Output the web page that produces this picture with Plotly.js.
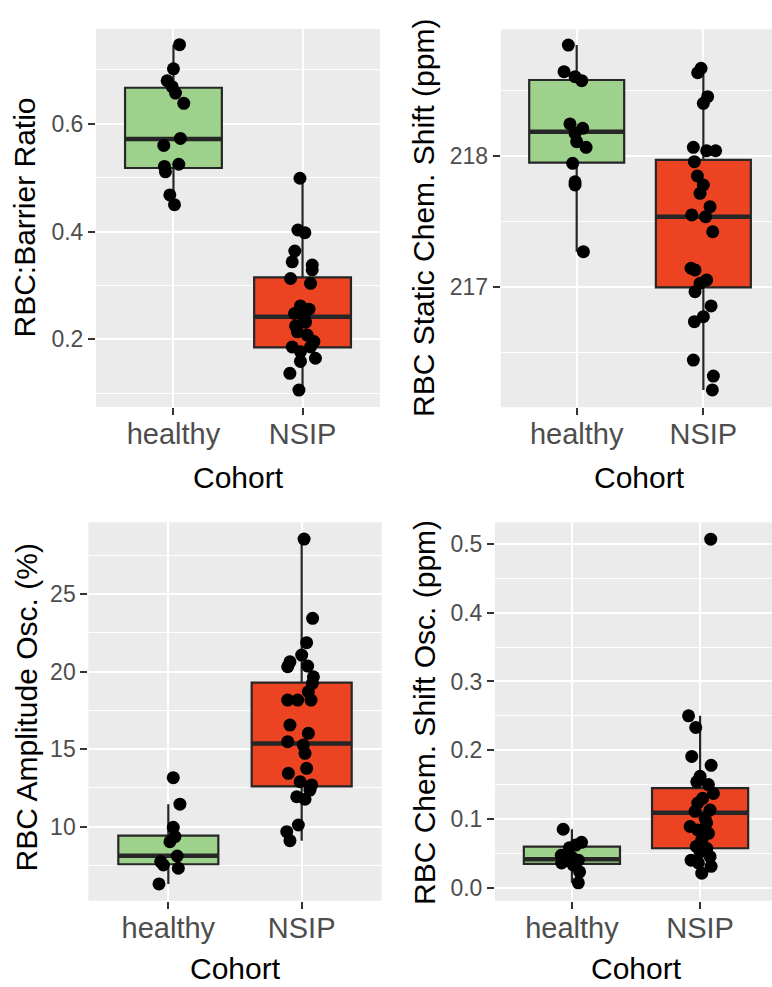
<!DOCTYPE html>
<html><head><meta charset="utf-8">
<script src="https://cdn.plot.ly/plotly-3.0.1.min.js"></script>
<style>html,body{margin:0;padding:0;background:#fff;} #chart{width:772px;height:987px;}</style>
</head><body><div id="chart"></div>
<script>
// ---------- data ----------
const categories = ['healthy', 'NSIP'];
const xTitle = 'Cohort';

// Panel 1: RBC:Barrier Ratio
const ratioTitle = 'RBC:Barrier Ratio';
const ratioHealthy = [0.747, 0.702, 0.680, 0.669, 0.657, 0.638, 0.573, 0.560, 0.525, 0.521, 0.511, 0.468, 0.450];
const ratioHealthyJitter = [0.047, 0.0, -0.049, -0.01, 0.016, 0.08, 0.054, -0.075, 0.041, -0.07, -0.062, -0.028, 0.008];
const ratioNSIP = [0.499, 0.403, 0.398, 0.364, 0.344, 0.338, 0.329, 0.313, 0.304, 0.262, 0.256, 0.248, 0.242, 0.232, 0.225, 0.214, 0.208, 0.196, 0.186, 0.186, 0.177, 0.165, 0.159, 0.137, 0.106];
const ratioNSIPJitter = [-0.02, -0.036, 0.018, -0.06, -0.08, 0.075, 0.075, -0.093, 0.062, -0.016, 0.05, -0.062, 0.01, 0.023, -0.054, -0.04, 0.036, 0.088, -0.08, 0.062, -0.016, 0.1, -0.016, -0.098, -0.028];
const ratioQ1 = [0.518, 0.185];
const ratioMedian = [0.572, 0.242];
const ratioQ3 = [0.667, 0.315];
const ratioLower = [0.450, 0.106];
const ratioUpper = [0.747, 0.499];

// Panel 2: RBC Static Chem. Shift (ppm)
const shiftTitle = 'RBC Static Chem. Shift (ppm)';
const shiftHealthy = [218.845, 218.642, 218.604, 218.574, 218.244, 218.211, 218.173, 218.109, 218.066, 217.944, 217.804, 217.779, 217.271];
const shiftHealthyJitter = [-0.066, -0.1, -0.013, 0.04, -0.053, 0.047, -0.013, 0.0, 0.074, -0.032, -0.013, -0.013, 0.053];
const shiftNSIP = [218.668, 218.634, 218.452, 218.401, 218.066, 218.040, 218.040, 217.957, 217.848, 217.779, 217.716, 217.614, 217.551, 217.538, 217.423, 217.145, 217.132, 217.056, 217.031, 216.967, 216.858, 216.776, 216.738, 216.446, 216.324, 216.218];
const shiftNSIPJitter = [-0.018, -0.045, 0.034, 0.0, -0.079, 0.026, 0.097, -0.071, -0.047, 0.0, -0.026, 0.053, -0.092, 0.018, 0.074, -0.097, -0.066, 0.026, -0.026, -0.066, 0.061, 0.0, -0.071, -0.079, 0.079, 0.071];
const shiftQ1 = [217.949, 217.0];
const shiftMedian = [218.185, 217.538];
const shiftQ3 = [218.579, 217.970];
const shiftLower = [217.271, 216.218];
const shiftUpper = [218.845, 218.668];

// Panel 3: RBC Amplitude Osc. (%)
const ampTitle = 'RBC Amplitude Osc. (%)';
const ampHealthy = [13.16, 11.45, 9.96, 9.36, 9.03, 8.11, 7.75, 7.53, 7.32, 6.31];
const ampHealthyJitter = [0.037, 0.087, 0.037, 0.05, 0.012, 0.067, -0.057, -0.037, 0.075, -0.07];
const ampNSIP = [28.54, 23.43, 21.86, 21.06, 20.63, 20.31, 20.35, 19.66, 19.24, 18.70, 18.16, 18.16, 18.16, 16.55, 16.02, 15.48, 15.26, 14.73, 13.76, 13.44, 12.90, 12.69, 12.36, 11.93, 11.77, 10.11, 9.68, 9.10];
const ampNSIPJitter = [0.018, 0.082, 0.037, 0.0, -0.088, -0.105, 0.045, 0.088, 0.08, 0.05, -0.105, -0.03, 0.07, -0.088, 0.05, -0.105, 0.012, 0.025, 0.037, -0.1, -0.012, 0.075, 0.062, -0.037, 0.025, -0.025, -0.112, -0.088];
const ampQ1 = [7.58, 12.60];
const ampMedian = [8.13, 15.37];
const ampQ3 = [9.42, 19.28];
const ampLower = [6.31, 9.10];
const ampUpper = [11.45, 28.54];

// Panel 4: RBC Chem. Shift Osc. (ppm)
const oscTitle = 'RBC Chem. Shift Osc. (ppm)';
const oscHealthy = [0.085, 0.066, 0.062, 0.058, 0.047, 0.044, 0.040, 0.036, 0.033, 0.023, 0.007];
const oscHealthyJitter = [-0.068, 0.075, 0.03, -0.02, -0.083, 0.0, 0.05, -0.08, 0.01, 0.06, 0.05];
const oscNSIP = [0.507, 0.250, 0.233, 0.191, 0.178, 0.162, 0.154, 0.150, 0.137, 0.130, 0.123, 0.113, 0.111, 0.101, 0.094, 0.089, 0.084, 0.079, 0.069, 0.060, 0.057, 0.052, 0.045, 0.040, 0.036, 0.031, 0.021];
const oscNSIPJitter = [0.083, -0.09, -0.034, -0.065, 0.086, 0.0, -0.026, 0.065, 0.104, 0.02, -0.018, 0.078, -0.039, 0.039, 0.05, -0.078, -0.018, 0.065, 0.013, -0.03, 0.052, 0.0, 0.078, -0.07, -0.013, 0.086, 0.013];
const oscQ1 = [0.0345, 0.0573];
const oscMedian = [0.0413, 0.109];
const oscQ3 = [0.0597, 0.1447];
const oscLower = [0.007, 0.021];
const oscUpper = [0.085, 0.250];

// ---------- styling / layout ----------
const W = 772, H = 987;
const boxColors = ['#9ed28c', '#ec4323'];
const lineColor = '#262626';
const FONT = 'Liberation Sans, Arial, Helvetica, sans-serif';
const boxWidth = 0.75;

const panels = [
  {title: ratioTitle, pts: [[ratioHealthy, ratioHealthyJitter], [ratioNSIP, ratioNSIPJitter]],
   q1: ratioQ1, med: ratioMedian, q3: ratioQ3, lf: ratioLower, uf: ratioUpper,
   px: [96, 380], py: [29, 407], xr: [-0.6, 1.6], yr: [0.0745, 0.776], tick0: 0, dtick: 0.2, fmt: '.1f',
   ytx: 24.5, yty: 218, xtx: 238, xty: 477},
  {title: shiftTitle, pts: [[shiftHealthy, shiftHealthyJitter], [shiftNSIP, shiftNSIPJitter]],
   q1: shiftQ1, med: shiftMedian, q3: shiftQ3, lf: shiftLower, uf: shiftUpper,
   px: [500.7, 772], py: [29.3, 407.3], xr: [-0.6, 1.542], yr: [216.086, 218.965], tick0: 217, dtick: 1, fmt: 'd',
   ytx: 424, yty: 218, xtx: 639.5, xty: 477},
  {title: ampTitle, pts: [[ampHealthy, ampHealthyJitter], [ampNSIP, ampNSIPJitter]],
   q1: ampQ1, med: ampMedian, q3: ampQ3, lf: ampLower, uf: ampUpper,
   px: [88.3, 381.7], py: [522.3, 900.7], xr: [-0.6, 1.6], yr: [5.23, 29.62], tick0: 0, dtick: 5, fmt: 'd',
   ytx: 25.5, yty: 708, xtx: 235, xty: 968.5},
  {title: oscTitle, pts: [[oscHealthy, oscHealthyJitter], [oscNSIP, oscNSIPJitter]],
   q1: oscQ1, med: oscMedian, q3: oscQ3, lf: oscLower, uf: oscUpper,
   px: [495, 772], py: [522.3, 900.7], xr: [-0.6, 1.561], yr: [-0.019, 0.5316], tick0: 0, dtick: 0.1, fmt: '.1f',
   ytx: 424, yty: 712, xtx: 636.7, xty: 968.5}
];

const traces = [];
const layout = {
  width: W, height: H, autosize: false,
  margin: {l: 0, r: 0, t: 0, b: 0, pad: 0},
  paper_bgcolor: '#ffffff', plot_bgcolor: '#ebebeb',
  showlegend: false, hovermode: false,
  font: {family: FONT, color: '#000'},
  annotations: []
};

panels.forEach((p, i) => {
  const n = i === 0 ? '' : String(i + 1);
  const xa = 'x' + n, ya = 'y' + n;
  for (let c = 0; c < 2; c++) {
    traces.push({
      type: 'box', x: [c], q1: [p.q1[c]], median: [p.med[c]], q3: [p.q3[c]],
      lowerfence: [p.lf[c]], upperfence: [p.uf[c]],
      width: boxWidth, whiskerwidth: 0, boxpoints: false,
      fillcolor: boxColors[c], line: {color: lineColor, width: 2.2},
      xaxis: xa, yaxis: ya, hoverinfo: 'skip'
    });
  }
  for (let c = 0; c < 2; c++) {
    traces.push({
      type: 'scatter', mode: 'lines',
      x: [c - boxWidth / 2, c + boxWidth / 2], y: [p.med[c], p.med[c]],
      line: {color: lineColor, width: 4.5}, xaxis: xa, yaxis: ya, hoverinfo: 'skip'
    });
  }
  for (let c = 0; c < 2; c++) {
    const vals = p.pts[c][0], jit = p.pts[c][1];
    traces.push({
      type: 'scatter', mode: 'markers',
      x: vals.map((v, k) => c + jit[k]), y: vals,
      marker: {color: '#000', size: 13, line: {width: 0}},
      xaxis: xa, yaxis: ya, hoverinfo: 'skip'
    });
  }
  layout['xaxis' + n] = {
    domain: [p.px[0] / W, p.px[1] / W], range: p.xr, anchor: ya,
    tickmode: 'array', tickvals: [0, 1], ticktext: categories,
    showgrid: true, gridcolor: '#ffffff', gridwidth: 2, zeroline: false, showline: false,
    ticks: 'outside', ticklen: 7, tickwidth: 2, tickcolor: '#333333', ticklabelstandoff: -6,
    tickfont: {family: FONT, size: 29, color: '#4d4d4d'}, fixedrange: true
  };
  layout['yaxis' + n] = {
    domain: [1 - p.py[1] / H, 1 - p.py[0] / H], range: p.yr, anchor: xa,
    tickmode: 'linear', tick0: p.tick0, dtick: p.dtick, tickformat: p.fmt,
    showgrid: true, gridcolor: '#ffffff', gridwidth: 2, zeroline: false, showline: false,
    minor: {tick0: p.tick0, dtick: p.dtick / 2, showgrid: true, gridcolor: '#ffffff', gridwidth: 1, ticks: ''},
    ticks: 'outside', ticklen: 7, tickwidth: 2, tickcolor: '#333333',
    tickfont: {family: FONT, size: 23, color: '#4d4d4d'}, fixedrange: true
  };
  layout.annotations.push({
    text: p.title, xref: 'paper', yref: 'paper', x: p.ytx / W, y: 1 - p.yty / H,
    xanchor: 'center', yanchor: 'middle', textangle: -90, showarrow: false,
    font: {family: FONT, size: 30, color: '#000'}
  });
  layout.annotations.push({
    text: xTitle, xref: 'paper', yref: 'paper', x: p.xtx / W, y: 1 - p.xty / H,
    xanchor: 'center', yanchor: 'middle', showarrow: false,
    font: {family: FONT, size: 30, color: '#000'}
  });
});

Plotly.newPlot('chart', traces, layout, {staticPlot: true, displayModeBar: false});
</script>
</body></html>
